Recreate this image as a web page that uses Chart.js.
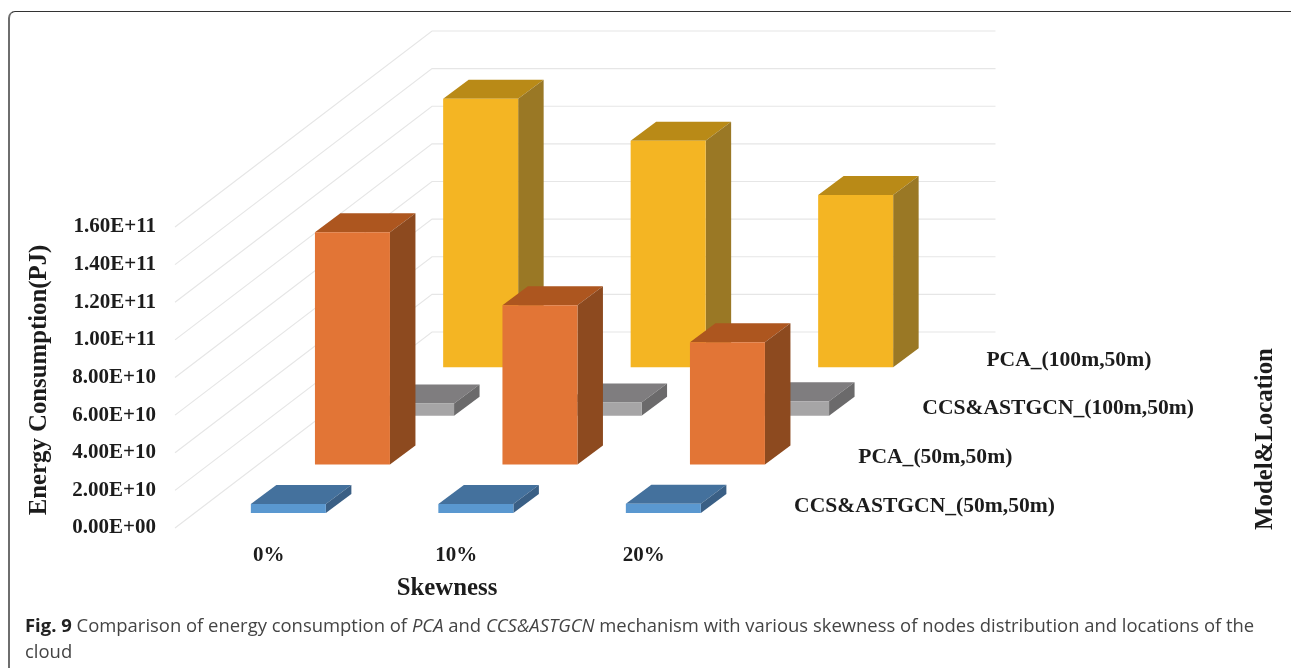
<!DOCTYPE html>
<html>
<head>
<meta charset="utf-8">
<title>Energy consumption by skewness</title>
<script src="https://cdn.jsdelivr.net/npm/chart.js@4"></script>
<style>
  html, body { margin: 0; padding: 0; background: #fff; width: 1291px; height: 668px; overflow: hidden; }
  #plot { position: absolute; left: 0; top: 0; }
  #frame { position: absolute; left: 8px; top: 11px; width: 1290px; height: 700px; box-sizing: border-box;
           border: 1px solid #333; border-left: 2px solid #6e6e6e; border-radius: 7px; }
  #caption { position: absolute; left: 25px; top: 612px; width: 1262px; font: 18.45px/26px "Open Sans", sans-serif;
             color: #444; white-space: nowrap; }
  #caption b { color: #222; }
</style>
</head>
<body>
<div id="frame"></div>
<canvas id="plot" width="1291" height="668"></canvas>
<div id="caption"><b>Fig. 9</b> Comparison of energy consumption of <i>PCA</i> and <i>CCS&amp;ASTGCN</i> mechanism with various skewness of nodes distribution and locations of the<br>cloud</div>
<script>
// Categories and series, front of the depth axis first
const skewness = ['0%', '10%', '20%'];
const seriesNames = ['CCS&ASTGCN_(50m,50m)', 'PCA_(50m,50m)', 'CCS&ASTGCN_(100m,50m)', 'PCA_(100m,50m)'];
const ccsNear = [4.8e9, 4.8e9, 4.9e9];
const pcaNear = [1.234e11, 8.46e10, 6.49e10];
const ccsFar  = [6.6e9, 7.1e9, 7.8e9];
const pcaFar  = [1.427e11, 1.204e11, 9.16e10];

// Face colours of each box: front, top, side
const faceColours = [
  ['#5a98d0', '#44719d', '#3a5f85'],
  ['#e27536', '#ad561f', '#8d4a1f'],
  ['#a6a5a6', '#7f7d7f', '#6b6a6b'],
  ['#f4b523', '#b98a17', '#9a7825']
];

// Oblique projection of the depth axis, in pixels
const wallDepth = { x: 257, y: 196 };
const boxDepth = { x: 25.5, y: 19 };
const firstSlot = { x: 19.6, y: 15 };
const slotStep = { x: 64.1, y: 48.6 };
const wallRightExtra = 1;

const serif = '"Liberation Serif", "Times New Roman", serif';
const inkColour = '#1c1c1c';
const gridColour = '#e6e6e6';
const tickFontSize = 21;
const nameFontSize = 21.6;
const titleFontSize = 24.8;

function slotOffset(i) {
  return { x: firstSlot.x + slotStep.x * i, y: firstSlot.y + slotStep.y * i };
}

function sciLabel(v) {
  const parts = Number(v).toExponential(2).split('e');
  const sign = parts[1][0];
  const exp = parts[1].slice(1).padStart(2, '0');
  return parts[0] + 'E' + sign + exp;
}

function polygon(ctx, pts, fill) {
  ctx.beginPath();
  pts.forEach((p, i) => i ? ctx.lineTo(p[0], p[1]) : ctx.moveTo(p[0], p[1]));
  ctx.closePath();
  ctx.fillStyle = fill;
  ctx.fill();
}

function rotatedTitle(ctx, text, cx, cy) {
  ctx.save();
  ctx.translate(cx, cy);
  ctx.rotate(-Math.PI / 2);
  ctx.fillText(text, 0, 0);
  ctx.restore();
}

const obliqueBars = {
  id: 'obliqueBars',
  // Side and back walls, one line per y tick
  beforeDatasetsDraw(chart) {
    const { ctx, scales: { x, y } } = chart;
    ctx.save();
    ctx.strokeStyle = gridColour;
    ctx.lineWidth = 1.2;
    y.ticks.forEach(t => {
      const py = y.getPixelForValue(t.value);
      ctx.beginPath();
      ctx.moveTo(x.left, py);
      ctx.lineTo(x.left + wallDepth.x, py - wallDepth.y);
      ctx.lineTo(x.right + wallDepth.x + wallRightExtra, py - wallDepth.y);
      ctx.stroke();
    });
    ctx.restore();
  },
  // Each series sits further back; its side and top faces go under the front rectangle
  beforeDatasetDraw(chart, args) {
    const { ctx } = chart;
    const off = slotOffset(args.index);
    const cols = faceColours[args.index];
    ctx.save();
    ctx.translate(off.x, -off.y);
    args.meta.data.forEach(bar => {
      const l = bar.x - bar.width / 2, r = bar.x + bar.width / 2;
      const t = bar.y, b = bar.base;
      const dx = boxDepth.x, dy = boxDepth.y;
      polygon(ctx, [[l, t], [l + dx, t - dy], [r + dx, t - dy], [r, t]], cols[1]);
      polygon(ctx, [[r, t], [r + dx, t - dy], [r + dx, b - dy], [r, b]], cols[2]);
    });
  },
  afterDatasetDraw(chart) {
    chart.ctx.restore();
  },
  // Axis titles and the series names along the depth axis
  afterDraw(chart) {
    const { ctx, scales: { x, y } } = chart;
    ctx.save();
    ctx.fillStyle = inkColour;
    ctx.textBaseline = 'middle';
    ctx.font = 'bold ' + nameFontSize + 'px ' + serif;
    ctx.textAlign = 'left';
    seriesNames.forEach((name, i) => {
      const off = slotOffset(i);
      ctx.fillText(name, x.right + 37 + off.x, y.bottom - 7 - off.y);
    });
    ctx.font = 'bold ' + titleFontSize + 'px ' + serif;
    ctx.textAlign = 'center';
    ctx.fillText('Skewness', 447, 589);
    rotatedTitle(ctx, 'Energy Consumption(PJ)', 40, 380);
    rotatedTitle(ctx, 'Model&Location', 1266, 439);
    ctx.restore();
  }
};

const allValues = [ccsNear, pcaNear, ccsFar, pcaFar];

new Chart(document.getElementById('plot'), {
  type: 'bar',
  data: {
    labels: skewness,
    datasets: allValues.map((vals, i) => ({
      label: seriesNames[i],
      data: vals,
      backgroundColor: faceColours[i][0],
      borderWidth: 0,
      clip: false
    }))
  },
  options: {
    responsive: false,
    animation: false,
    grouped: false,
    categoryPercentage: 1,
    barPercentage: 0.4,
    layout: { padding: { top: 227, left: 0, right: 553.5, bottom: 80 } },
    plugins: { legend: { display: false }, tooltip: { enabled: false } },
    scales: {
      x: {
        grid: { display: false, drawTicks: false },
        border: { display: false },
        afterFit: s => { s.height = 60; },
        ticks: { color: inkColour, padding: 15, maxRotation: 0, font: { family: serif, weight: 'bold', size: tickFontSize } }
      },
      y: {
        min: 0,
        max: 1.6e11,
        grid: { display: false, drawTicks: false },
        border: { display: false },
        afterFit: s => { s.width = 175; },
        ticks: {
          stepSize: 2e10,
          padding: 19,
          color: inkColour,
          callback: sciLabel,
          font: { family: serif, weight: 'bold', size: tickFontSize }
        }
      }
    }
  },
  plugins: [obliqueBars]
});
</script>
</body>
</html>
